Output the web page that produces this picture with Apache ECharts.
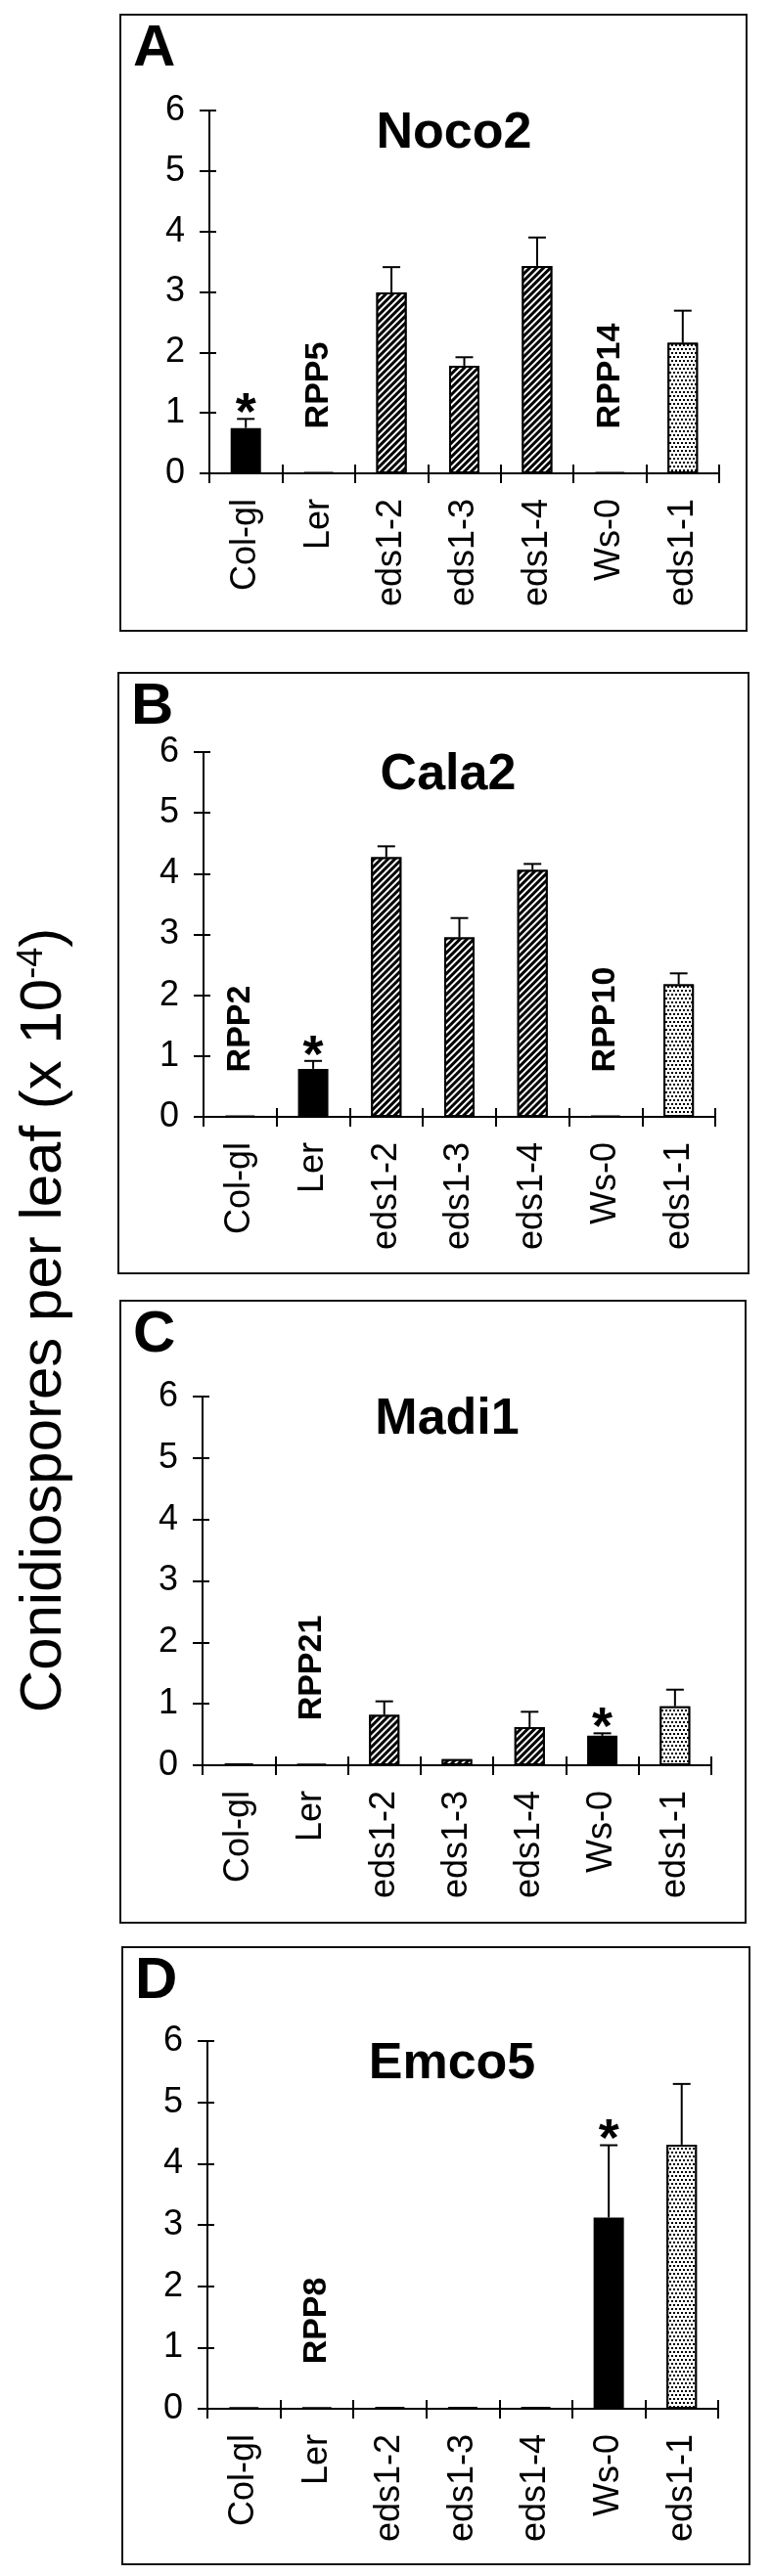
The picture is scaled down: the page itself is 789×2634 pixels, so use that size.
<!DOCTYPE html>
<html><head><meta charset="utf-8">
<script src="https://cdn.jsdelivr.net/npm/echarts@6/dist/echarts.min.js"></script>
<style>html,body{margin:0;padding:0;background:#fff}#c{width:789px;height:2634px}</style>
</head><body><div id="c"></div>
<script>
// ---------- data ----------
const categories = ['Col-gl', 'Ler', 'eds1-2', 'eds1-3', 'eds1-4', 'Ws-0', 'eds1-1'];
const categoryFill = ['solid', 'solid', 'hatch', 'hatch', 'hatch', 'solid', 'dots'];
const yMin = 0, yMax = 6, yStep = 1;
const panelLetters = ['A', 'B', 'C', 'D'];
const isolates = ['Noco2', 'Cala2', 'Madi1', 'Emco5'];
const yAxisTitle = 'Conidiospores per leaf (x 10';
const yAxisTitleExp = '-4';

const noco2Values = [0.75, 0.02, 2.99, 1.78, 3.43, 0.02, 2.16];
const noco2Errors = [0.15, 0, 0.42, 0.14, 0.47, 0, 0.53];
const noco2Notes = ['', 'RPP5', '', '', '', 'RPP14', ''];
const noco2Star = [1, 0, 0, 0, 0, 0, 0];

const cala2Values = [0.02, 0.79, 4.27, 2.95, 4.06, 0.02, 2.18];
const cala2Errors = [0, 0.13, 0.18, 0.32, 0.10, 0, 0.18];
const cala2Notes = ['RPP2', '', '', '', '', 'RPP10', ''];
const cala2Star = [0, 1, 0, 0, 0, 0, 0];

const madi1Values = [0.03, 0.02, 0.82, 0.10, 0.62, 0.48, 0.96];
const madi1Errors = [0, 0, 0.22, 0, 0.25, 0.04, 0.27];
const madi1Notes = ['', 'RPP21', '', '', '', '', ''];
const madi1Star = [0, 0, 0, 0, 0, 1, 0];

const emco5Values = [0.02, 0.02, 0.02, 0.02, 0.02, 3.12, 4.31];
const emco5Errors = [0, 0, 0, 0, 0, 1.18, 0.99];
const emco5Notes = ['', 'RPP8', '', '', '', '', ''];
const emco5Star = [0, 0, 0, 0, 0, 1, 0];

const panelData = [
  [noco2Values, noco2Errors, noco2Notes, noco2Star],
  [cala2Values, cala2Errors, cala2Notes, cala2Star],
  [madi1Values, madi1Errors, madi1Notes, madi1Star],
  [emco5Values, emco5Errors, emco5Notes, emco5Star]
];

// ---------- layout ----------
const FONT = '"Liberation Sans", Arial, sans-serif';
const grids = [
  {left: 214, top: 113, width: 521, height: 371},
  {left: 208, top: 769, width: 523, height: 373},
  {left: 207, top: 1428, width: 520, height: 377},
  {left: 212, top: 2087, width: 522, height: 376}
];
const boxes = [
  {x: 123, y: 15, w: 640, h: 630},
  {x: 121, y: 688, w: 644, h: 614},
  {x: 123, y: 1330, w: 639, h: 636},
  {x: 125, y: 1991, w: 641, h: 631}
];

const BLACK = '#000';
function fillStyle(kind) {
  const base = {borderColor: BLACK, borderWidth: 2};
  if (kind === 'solid') return Object.assign({color: BLACK}, base);
  if (kind === 'hatch') return Object.assign({color: '#fff', decal: {
    symbol: 'rect', symbolSize: 1, color: BLACK, backgroundColor: '#fff',
    dashArrayX: [1, 0], dashArrayY: [2.4, 2], rotation: -Math.PI / 4
  }}, base);
  return Object.assign({color: '#fff', decal: {
    symbol: 'rect', symbolSize: 1, color: BLACK, backgroundColor: '#fff',
    dashArrayX: [[2, 2], [0, 2, 2, 0]], dashArrayY: [1.5, 1.5], rotation: 0
  }}, base);
}

const option = {
  animation: false,
  backgroundColor: '#fff',
  grid: [], xAxis: [], yAxis: [], series: [], graphic: []
};
const axisLineStyle = {color: BLACK, width: 2};

grids.forEach((g, k) => {
  option.grid.push({left: g.left, top: g.top, width: g.width, height: g.height,
    containLabel: false, outerBoundsMode: 'none'});
  option.xAxis.push({
    type: 'category', gridIndex: k, data: categories, position: 'bottom',
    axisLine: {show: true, lineStyle: axisLineStyle},
    axisTick: {show: true, length: 10, inside: false, interval: 0, lineStyle: axisLineStyle},
    axisLabel: {rotate: 90, fontSize: 36, fontFamily: FONT, color: BLACK, margin: 26, interval: 0},
    splitLine: {show: false}
  });
  option.xAxis.push({
    type: 'category', gridIndex: k, data: categories, position: 'bottom',
    axisLine: {show: false},
    axisTick: {show: true, length: 9, inside: true, interval: 0, lineStyle: axisLineStyle},
    axisLabel: {show: false}, splitLine: {show: false}
  });
  option.yAxis.push({
    type: 'value', gridIndex: k, min: yMin, max: yMax, interval: yStep, position: 'left',
    axisLine: {show: true, lineStyle: axisLineStyle},
    axisTick: {show: true, length: 10, inside: false, lineStyle: axisLineStyle},
    axisLabel: {fontSize: 36, fontFamily: FONT, color: BLACK, margin: 25},
    splitLine: {show: false}
  });
  option.yAxis.push({
    type: 'value', gridIndex: k, min: yMin, max: yMax, interval: yStep, position: 'left',
    axisLine: {show: false},
    axisTick: {show: true, length: 7, inside: true, lineStyle: axisLineStyle},
    axisLabel: {show: false}, splitLine: {show: false}
  });

  const [vals, errs, notes, stars] = panelData[k];
  option.series.push({
    type: 'bar', xAxisIndex: 2 * k, yAxisIndex: 2 * k, barWidth: 31,
    data: vals.map((v, i) => ({
      value: v,
      itemStyle: fillStyle(categoryFill[i]),
      label: notes[i] ? {
        show: true, formatter: notes[i], position: 'top', distance: 44, rotate: 90,
        align: 'left', verticalAlign: 'middle',
        fontSize: 34, fontWeight: 'bold', fontFamily: FONT, color: BLACK
      } : {show: false}
    }))
  });
  option.series.push({
    type: 'custom', xAxisIndex: 2 * k, yAxisIndex: 2 * k, z: 5,
    data: vals.map((v, i) => [i, v, errs[i], stars[i]]),
    renderItem: function (params, api) {
      const i = api.value(0), v = api.value(1), e = api.value(2), s = api.value(3);
      const base = api.coord([i, v]);
      const top = api.coord([i, v + e]);
      const ch = [];
      if (e > 0) {
        ch.push({type: 'line', shape: {x1: base[0], y1: base[1], x2: top[0], y2: top[1]},
          style: {stroke: BLACK, lineWidth: 2}});
        ch.push({type: 'line', shape: {x1: top[0] - 9, y1: top[1], x2: top[0] + 9, y2: top[1]},
          style: {stroke: BLACK, lineWidth: 2}});
      }
      if (s) {
        ch.push({type: 'text', x: top[0], y: top[1] - 4,
          style: {text: '*', fontSize: 54, fontWeight: 'bold', fontFamily: FONT, fill: BLACK,
            align: 'center', verticalAlign: 'middle'}});
      }
      return {type: 'group', children: ch};
    }
  });

  const b = boxes[k];
  option.graphic.push({type: 'rect', shape: {x: b.x, y: b.y, width: b.w, height: b.h},
    style: {fill: 'none', stroke: '#111', lineWidth: 2}, silent: true});
  option.graphic.push({type: 'text', x: b.x + 13, y: b.y + 5,
    style: {text: panelLetters[k], fontSize: 60, fontWeight: 'bold', fontFamily: FONT, fill: BLACK,
      align: 'left', verticalAlign: 'top'}});
  option.graphic.push({type: 'text', x: g.left + 250, y: g.top - 2,
    style: {text: isolates[k], fontSize: 52, fontWeight: 'bold', fontFamily: FONT, fill: BLACK,
      align: 'center', verticalAlign: 'top'}});
});

option.graphic.push({type: 'text', x: 45, y: 1350, rotation: Math.PI / 2,
  style: {text: '{a|' + yAxisTitle + '}{s|' + yAxisTitleExp + '}{a|)}',
    align: 'center', verticalAlign: 'middle', fill: BLACK,
    rich: {
      a: {fontSize: 60, fontFamily: FONT, fill: BLACK},
      s: {fontSize: 36, fontFamily: FONT, fill: BLACK, verticalAlign: 'top'}
    }}});

const chart = echarts.init(document.getElementById('c'), null, {renderer: 'canvas'});
chart.setOption(option);
</script>
</body></html>
